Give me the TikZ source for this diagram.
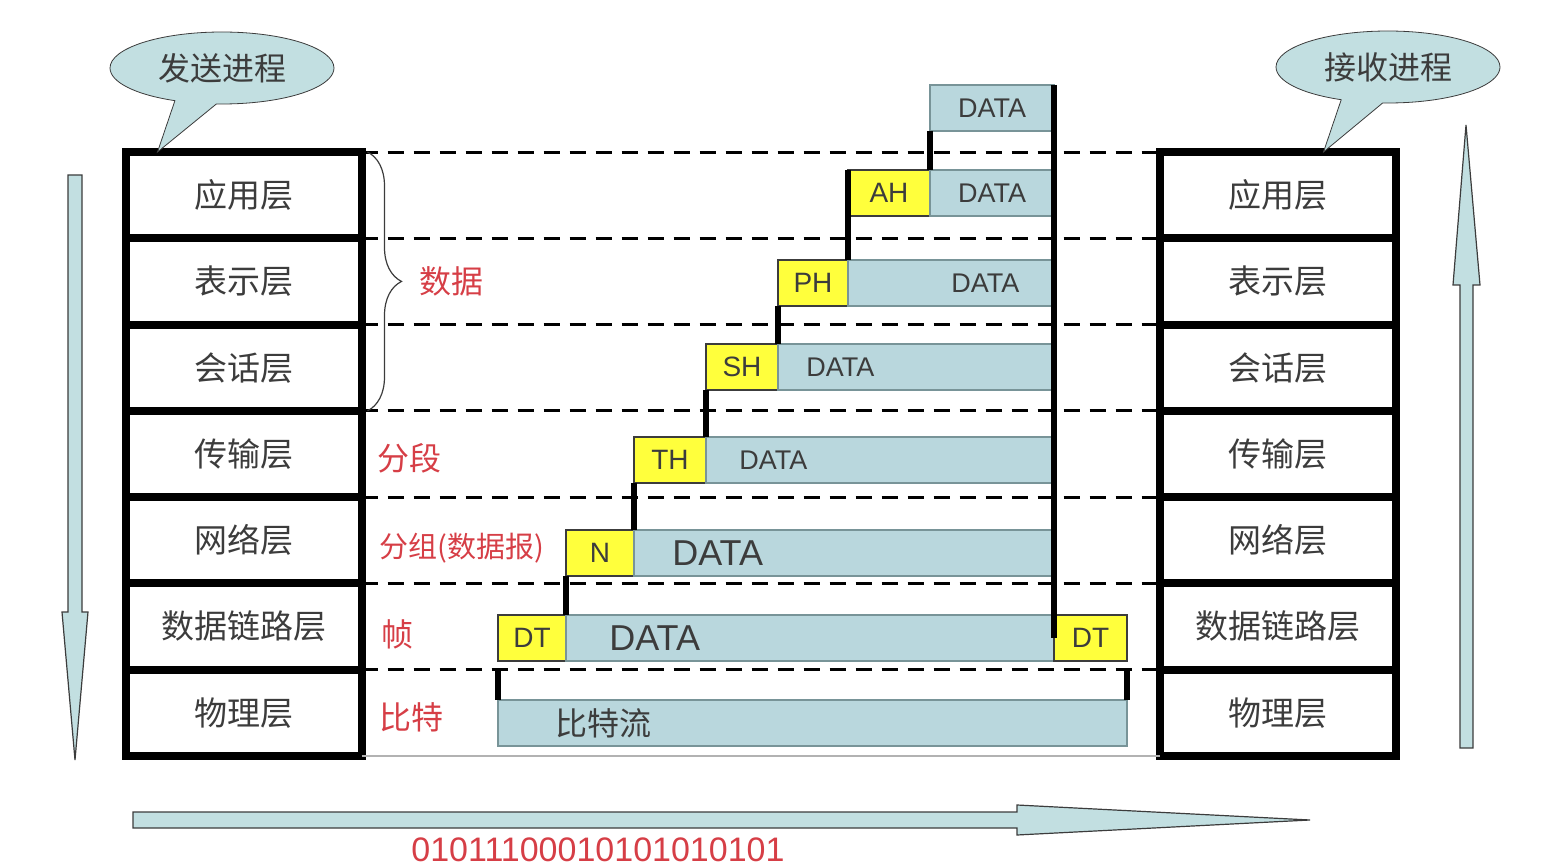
\documentclass[tikz,border=0pt]{standalone}
\usepackage{fontspec}
\setmainfont{Liberation Sans}
\newfontfamily\cjk{Noto Sans CJK SC}
\usetikzlibrary{shapes}
\usetikzlibrary{shapes.callouts}
\usetikzlibrary{positioning}
\usetikzlibrary{decorations.pathreplacing}
\definecolor{pktblue}{RGB}{185,215,221}
\definecolor{pktedge}{RGB}{120,148,152}
\definecolor{hdryellow}{RGB}{255,255,60}
\definecolor{laygray}{RGB}{60,60,60}
\definecolor{lblred}{RGB}{214,62,70}
\definecolor{arrowblue}{RGB}{194,223,225}
\tikzstyle{layer} = [rectangle, draw, line width=4pt, outer sep=0pt, inner sep=0pt,
    minimum width=118pt, minimum height=43.14pt, text=laygray, font=\cjk\fontsize{16.5}{18}\selectfont]
\tikzstyle{bubble} = [ellipse callout, draw=laygray, fill=arrowblue, minimum width=112pt,
    minimum height=36pt, inner sep=0pt, callout pointer arc=22, text=laygray, font=\cjk\fontsize{16}{18}\selectfont]
\tikzstyle{pkt} = [rectangle, draw=pktedge, fill=pktblue, line width=1pt, outer sep=0pt,
    inner sep=0pt, minimum height=23pt, text=laygray, font=\fontsize{13.5}{15}\selectfont]
\tikzstyle{hdr} = [rectangle, draw=laygray, fill=hdryellow, line width=0.8pt, outer sep=0pt,
    inner sep=0pt, minimum height=23pt, text=laygray, font=\fontsize{14}{15}\selectfont]
\tikzstyle{pkttxt} = [inner sep=0pt, anchor=west, text=laygray, font=\fontsize{13.5}{15}\selectfont]
\tikzstyle{redlbl} = [inner sep=0pt, anchor=west, text=lblred, font=\cjk\fontsize{16}{18}\selectfont]
\tikzstyle{dashline} = [draw, line width=1.5pt, dash pattern=on 8pt off 5pt]
\tikzstyle{stepline} = [draw, line width=3.2pt]
\tikzstyle{bigarrow} = [draw=laygray, fill=arrowblue, line width=0.6pt]

\begin{document}
\begin{tikzpicture}[x=0.5pt, y=-0.5pt]
    \useasboundingbox (0,0) rectangle (1564,866);
    % Place layers
    \node [layer] (s1) at (243.5,195.15) {应用层};
    \node [layer, below=0pt of s1] (s2) {表示层};
    \node [layer, below=0pt of s2] (s3) {会话层};
    \node [layer, below=0pt of s3] (s4) {传输层};
    \node [layer, below=0pt of s4] (s5) {网络层};
    \node [layer, below=0pt of s5] (s6) {数据链路层};
    \node [layer, below=0pt of s6] (s7) {物理层};
    \node [layer] (r1) at (1277.5,195.15) {应用层};
    \node [layer, below=0pt of r1] (r2) {表示层};
    \node [layer, below=0pt of r2] (r3) {会话层};
    \node [layer, below=0pt of r3] (r4) {传输层};
    \node [layer, below=0pt of r4] (r5) {网络层};
    \node [layer, below=0pt of r5] (r6) {数据链路层};
    \node [layer, below=0pt of r6] (r7) {物理层};
    % Callouts
    \node [bubble, callout absolute pointer={([xshift=16pt]s1.north west)}] (send) at (222,68) {发送进程};
    \node [bubble, callout absolute pointer={([xshift=23pt]r1.north)}] (recv) at (1388,67) {接收进程};
    % Dashed layer lines
    \foreach \i in {1,...,7}
        \draw [dashline] (s\i.north east) -- (r\i.north west);
    \draw [gray!60, line width=1pt] (s7.south east) -- (r7.south west);
    % Labels
    \draw [laygray, line width=0.6pt, decorate, decoration={brace, amplitude=17pt}]
        ([xshift=3pt]s1.north east) -- ([xshift=3pt]s3.south east);
    \node [redlbl, right=29pt of s2.east] (lbldata) {数据};
    \node [redlbl, right=8pt of s4.east, yshift=-2pt] (lblseg) {分段};
    \node [redlbl, right=9pt of s5.east, yshift=-4pt, font=\cjk\fontsize{14.5}{16}\selectfont] (lblpkt) {分组(数据报)};
    \node [redlbl, right=10pt of s6.east, yshift=-4pt] (lblframe) {帧};
    \node [redlbl, right=9pt of s7.east, yshift=-2pt] (lblbit) {比特};
    % Packets
    \node [pkt, anchor=north west, minimum width=62pt] (d0) at (930,85) {DATA};
    \node [hdr, anchor=north west, minimum width=41pt] (ah) at (848,170) {AH};
    \node [pkt, right=0pt of ah, minimum width=62pt] (d1) {DATA};
    \node [hdr, anchor=north west, minimum width=35pt] (ph) at (778,260) {PH};
    \node [pkt, right=0pt of ph, minimum width=103pt] (d2) {};
    \node [pkttxt, right=51.5pt of d2.west] {DATA};
    \node [hdr, anchor=north west, minimum width=36pt] (sh) at (706,344) {SH};
    \node [pkt, right=0pt of sh, minimum width=138pt] (d3) {};
    \node [pkttxt, right=14pt of d3.west] {DATA};
    \node [hdr, anchor=north west, minimum width=36pt] (th) at (634,437) {TH};
    \node [pkt, right=0pt of th, minimum width=174pt] (d4) {};
    \node [pkttxt, right=16.5pt of d4.west] {DATA};
    \node [hdr, anchor=north west, minimum width=34pt] (nh) at (566,530) {N};
    \node [pkt, right=0pt of nh, minimum width=210pt] (d5) {};
    \node [pkttxt, right=19pt of d5.west, font=\fontsize{18}{20}\selectfont] {DATA};
    \node [hdr, anchor=north west, minimum width=34pt] (dt1) at (498,615) {DT};
    \node [pkt, right=0pt of dt1, minimum width=244pt] (d6) {};
    \node [pkttxt, right=21.5pt of d6.west, font=\fontsize{18}{20}\selectfont] {DATA};
    \node [hdr, right=0pt of d6, minimum width=36.5pt] (dt2) {DT};
    \node [pkt, anchor=north west, minimum width=314.5pt] (bits) at (498,700) {};
    \node [pkttxt, right=28.5pt of bits.west, font=\cjk\fontsize{16}{18}\selectfont] {比特流};
    % Draw edges
    \draw [stepline] (d0.north east) -- (d6.east);
    \draw [stepline] (d0.south west) -- (d1.north west);
    \draw [stepline] (ah.north west) -- (d2.north west);
    \draw [stepline] (ph.south west) -- (d3.north west);
    \draw [stepline] (sh.south west) -- (d4.north west);
    \draw [stepline] (th.south west) -- (d5.north west);
    \draw [stepline] (nh.south west) -- (d6.north west);
    \draw [stepline, shorten <=4pt] (dt1.south west) -- (bits.north west);
    \draw [stepline, shorten <=4pt] (dt2.south east) -- (bits.north east);
    % Direction arrows
    \draw [bigarrow] (68,175) -- (82,175) -- (82,612) -- (88,612) -- (75,760) -- (62,612) -- (68,612) -- cycle;
    \draw [bigarrow] (1460,748) -- (1473,748) -- (1473,285) -- (1480,285) -- (1466,125) -- (1453,285) -- (1460,285) -- cycle;
    \draw [bigarrow] (133,812) -- (1017,812) -- (1017,805) -- (1310,820) -- (1017,835) -- (1017,828) -- (133,828) -- cycle;
    \node [text=lblred, inner sep=0pt, font=\fontsize{17}{19}\selectfont] (stream) at (598,850) {01011100010101010101};
\end{tikzpicture}
\end{document}
